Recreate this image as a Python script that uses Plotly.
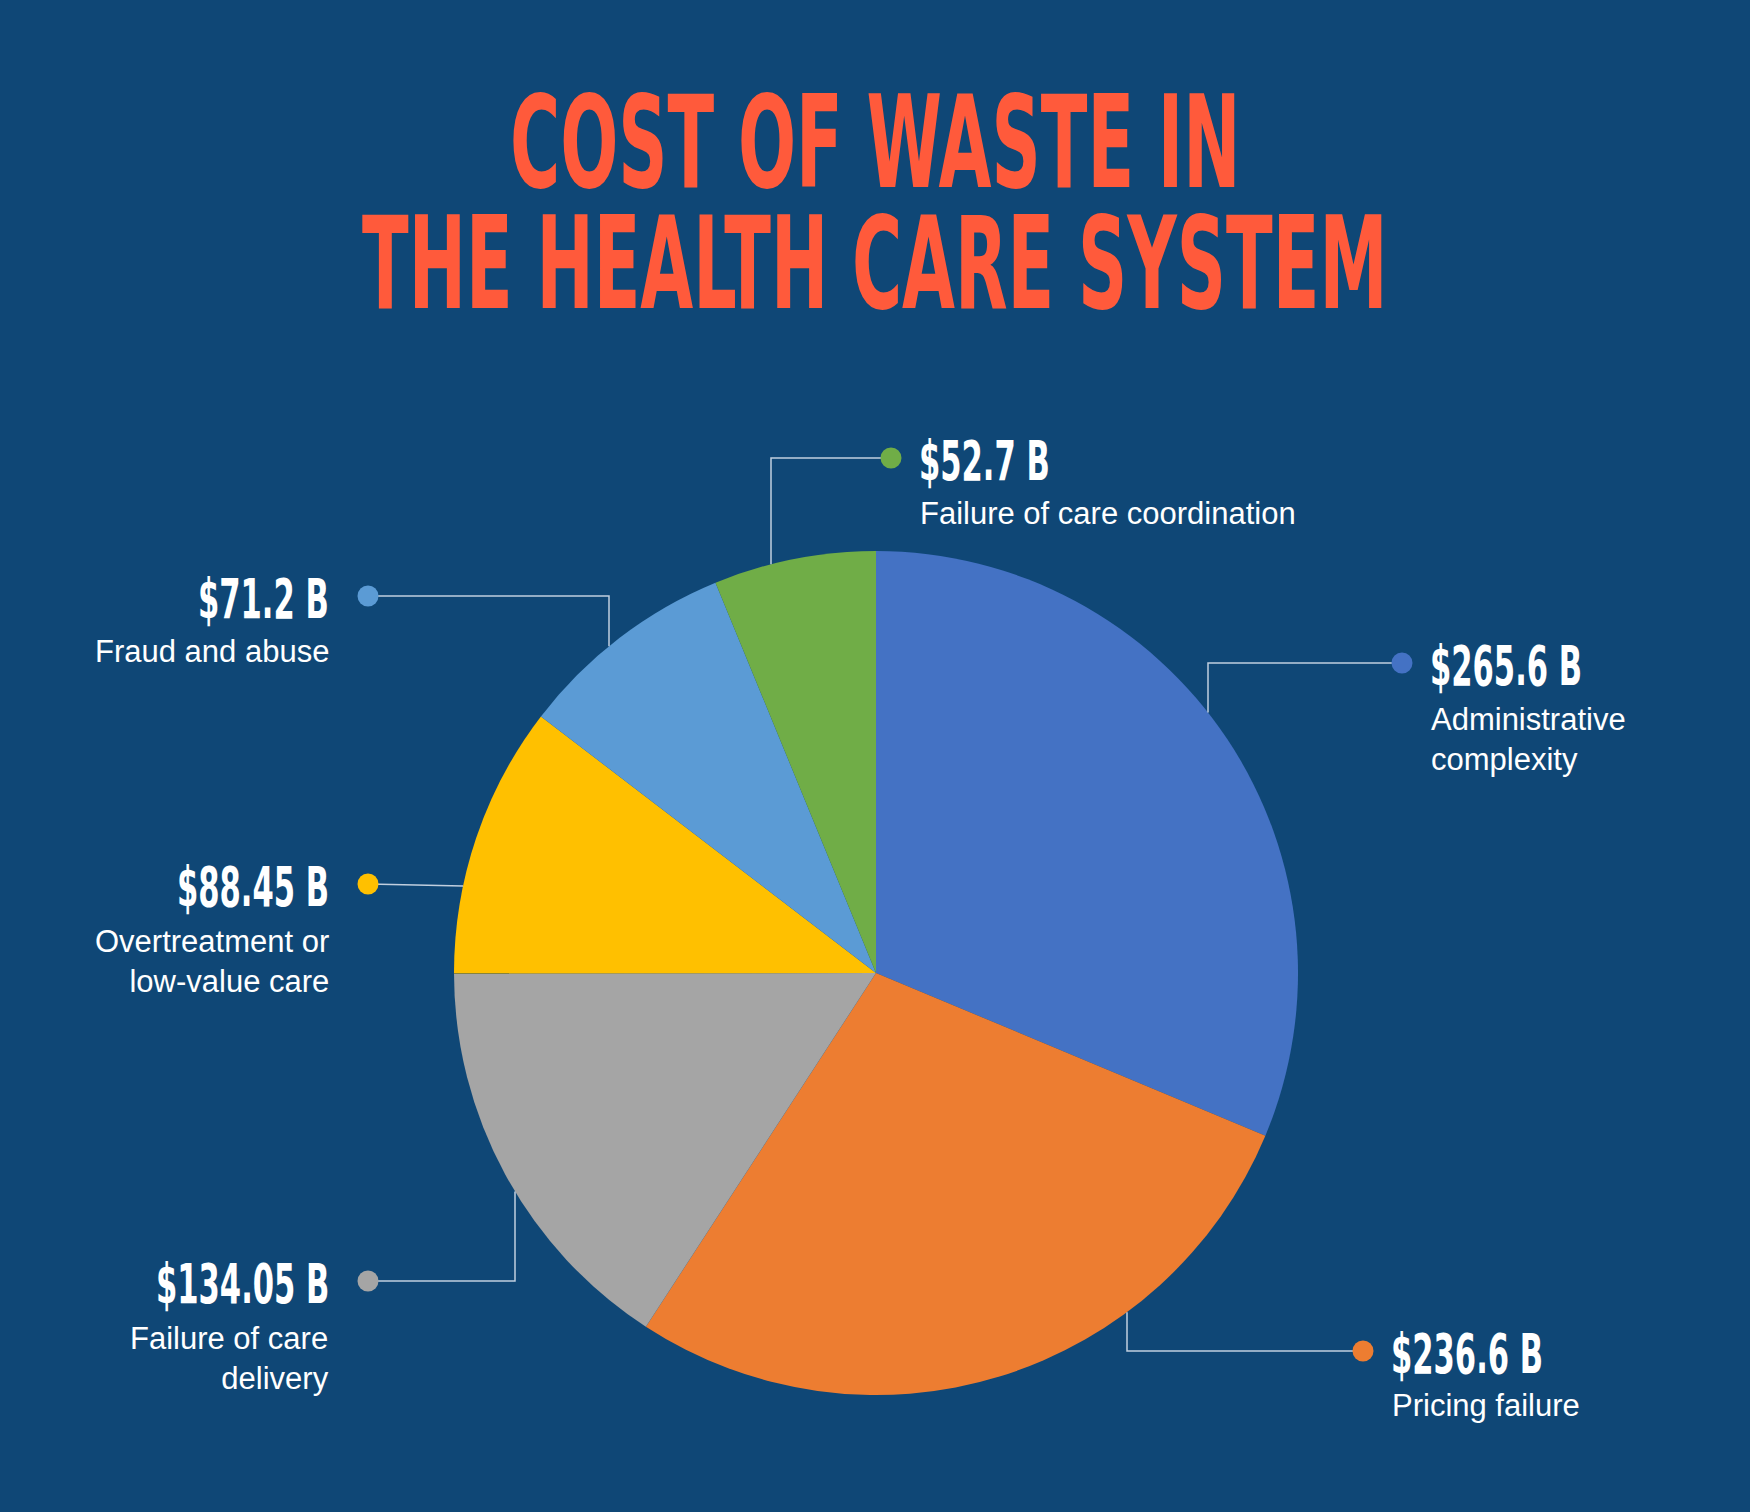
import math
import plotly.graph_objects as go

# data
categories = ["Administrative complexity", "Pricing failure", "Failure of care delivery",
              "Overtreatment or low-value care", "Fraud and abuse", "Failure of care coordination"]
values = [265.6, 236.6, 134.05, 88.45, 71.2, 52.7]
value_labels = ["$265.6 B", "$236.6 B", "$134.05 B", "$88.45 B", "$71.2 B", "$52.7 B"]
desc_labels = ["Administrative<br>complexity", "Pricing failure", "Failure of care<br>delivery",
               "Overtreatment or<br>low-value care", "Fraud and abuse", "Failure of care coordination"]
colors = ["#4472C4", "#ED7D31", "#A5A5A5", "#FFC000", "#5B9BD5", "#70AD47"]

# page geometry (pixels)
W, H = 1750, 1512
CX, CY, R = 876, 973, 422
BG = "#0F4776"
TITLE_RED = "#FF5A3B"
NARROW = "Liberation Sans Narrow, DejaVu Sans Condensed, Arial Narrow, sans-serif"
SANS = "Liberation Sans, Arial, Helvetica, sans-serif"

# callout placement per slice: side, dot position, elbow x (None = straight line), description centre y
callouts = [
    ("right", (1402, 663), 1208, 739),
    ("right", (1363, 1351), 1127, 1405),
    ("left", (368, 1281), 515, 1358),
    ("left", (368, 884), None, 961),
    ("left", (368, 596), 609, 652),
    ("right", (891, 458), 771, 513),
]


def px(x):
    return x / W


def py(y):
    return 1 - y / H


fig = go.Figure(go.Pie(
    labels=categories, values=values, sort=False, direction="clockwise", rotation=0,
    marker=dict(colors=colors, line=dict(width=0)),
    textinfo="none", hoverinfo="label+value", showlegend=False,
    domain=dict(x=[px(CX - R), px(CX + R)], y=[py(CY + R), py(CY - R)]),
))

shapes = []
annotations = [
    dict(text="COST OF WASTE IN", x=0.5, y=py(143)),
    dict(text="THE HEALTH CARE SYSTEM", x=0.5, y=py(263)),
]
for a in annotations:
    a.update(xref="paper", yref="paper", xanchor="center", yanchor="middle", showarrow=False,
             font=dict(family=NARROW, size=76, color=TITLE_RED, weight="bold"))

line_style = dict(color="rgba(225,232,242,0.85)", width=1.5)
for i, (side, (dx, dy), ex, desc_y) in enumerate(callouts):
    if ex is not None:
        off = math.sqrt(R ** 2 - (ex - CX) ** 2)
        ey = CY - off if dy < CY else CY + off
        path = f"M {px(dx)},{py(dy)} L {px(ex)},{py(dy)} L {px(ex)},{py(ey)}"
    else:
        ty = dy + 2
        tx = CX - math.sqrt(R ** 2 - (ty - CY) ** 2)
        path = f"M {px(dx)},{py(dy)} L {px(tx)},{py(ty)}"
    shapes.append(dict(type="path", xref="paper", yref="paper", path=path, line=line_style))

dot_r = 10.5
for i, (side, (dx, dy), ex, desc_y) in enumerate(callouts):
    shapes.append(dict(type="circle", xref="paper", yref="paper",
                       x0=px(dx - dot_r), x1=px(dx + dot_r), y0=py(dy + dot_r), y1=py(dy - dot_r),
                       fillcolor=colors[i], line=dict(width=0)))

for i, (side, (dx, dy), ex, desc_y) in enumerate(callouts):
    tx = dx + 26 if side == "right" else dx - 37
    annotations.append(dict(text=value_labels[i], xref="paper", yref="paper", x=px(tx), y=py(dy + 3),
                            xanchor="left" if side == "right" else "right", yanchor="middle",
                            showarrow=False,
                            font=dict(family=NARROW, size=34, color="white", weight="bold")))
for i, (side, (dx, dy), ex, desc_y) in enumerate(callouts):
    tx = dx + 27 if side == "right" else dx - 37
    annotations.append(dict(text=desc_labels[i], xref="paper", yref="paper", x=px(tx), y=py(desc_y),
                            xanchor="left" if side == "right" else "right", yanchor="middle",
                            align="left" if side == "right" else "right", showarrow=False,
                            font=dict(family=SANS, size=31, color="white")))

fig.update_layout(
    width=W, height=H, margin=dict(l=0, r=0, t=0, b=0),
    paper_bgcolor=BG, plot_bgcolor=BG,
    shapes=shapes, annotations=annotations,
)

# no page margin, and stretch the condensed headline / value text vertically like the poster type
stretch_js = """
document.body.style.margin = '0';
var gd = document.getElementById('{plot_id}');
gd.querySelectorAll('g.annotation').forEach(function(g){
  var i = +g.getAttribute('data-index');
  var s = i < 2 ? 1.68 : (i < 8 ? 1.62 : 1);
  if (s === 1) return;
  var t = g.querySelector('text.annotation-text');
  t.style.transformBox = 'fill-box';
  t.style.transformOrigin = 'center';
  t.style.transform = 'scaleY(' + s + ')';
});
"""

fig.write_html("out.html", post_script=stretch_js, config={"displayModeBar": False})
